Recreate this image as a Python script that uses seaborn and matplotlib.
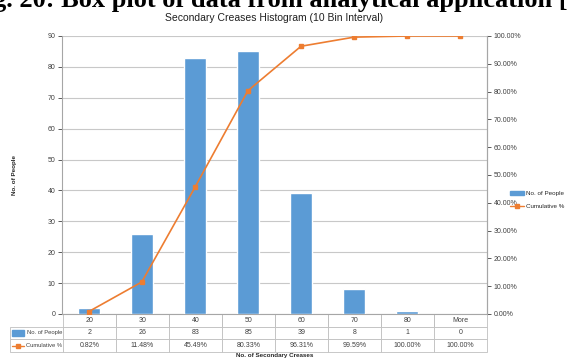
import matplotlib
matplotlib.use("Agg")
from matplotlib import pyplot as plt
from matplotlib.lines import Line2D
from matplotlib.patches import Rectangle
import seaborn as sns
import pandas as pd

bins = ['20', '30', '40', '50', '60', '70', '80', 'More']
people = [2, 26, 83, 85, 39, 8, 1, 0]
cumulative = [0.82, 11.48, 45.49, 80.33, 96.31, 99.59, 100.00, 100.00]

BLUE = '#5B9BD5'
ORANGE = '#ED7D31'
GRID = '#C8C8C8'
TXT = '#404040'


def main() -> None:
    sns.set_theme(style='white')
    plt.rcParams['font.family'] = ['Liberation Sans', 'DejaVu Sans']

    fig = plt.figure(figsize=(5.7, 3.6), dpi=100)
    ax = fig.add_axes([0.109, 0.128, 0.745, 0.772])

    df = pd.DataFrame({'bin': bins, 'people': people, 'cum': cumulative})
    sns.barplot(data=df, x='bin', y='people', order=bins, color=BLUE,
                width=0.42, saturation=1, ax=ax, zorder=3)
    ax.set_ylim(0, 90)
    ax.set_yticks(range(0, 91, 10))
    ax.set_xlim(-0.5, len(bins) - 0.5)
    ax.yaxis.grid(True, color=GRID, lw=0.8, zorder=0)
    ax.set_axisbelow(True)
    ax.set_xticks([])
    ax.set_xlabel('')
    ax.set_ylabel('No. of People', fontsize=4.5, fontweight='bold', labelpad=22)
    ax.tick_params(axis='y', labelsize=5, colors=TXT, length=3, width=0.6,
                   direction='out', left=True, pad=2)
    ax.spines['top'].set_visible(False)
    for s in ['left', 'bottom', 'right']:
        ax.spines[s].set_color('#A6A6A6')
        ax.spines[s].set_linewidth(0.8)

    ax2 = ax.twinx()
    ax2.plot(bins, cumulative, color=ORANGE, lw=1.2, marker='s', ms=3.2, zorder=4)
    ax2.set_ylim(0, 100)
    ax2.set_yticks(range(0, 101, 10))
    ax2.set_yticklabels([f'{v:.2f}%' for v in range(0, 101, 10)])
    ax2.tick_params(axis='y', labelsize=5, colors=TXT, length=3, width=0.6,
                    direction='out', right=True, pad=2)
    for s in ['top', 'left', 'bottom']:
        ax2.spines[s].set_visible(False)
    ax2.spines['right'].set_color('#A6A6A6')
    ax2.spines['right'].set_linewidth(0.8)
    ax2.grid(False)

    # data table under the chart
    rows = [[''] + bins,
            ['No. of People'] + [str(v) for v in people],
            ['Cumulative %'] + [f'{v:.2f}%' for v in cumulative]]
    h = 38 / 278
    tab = ax.table(cellText=rows, cellLoc='center',
                   bbox=[-52 / 425, -h, 1 + 52 / 425, h])
    tab.auto_set_font_size(False)
    tab.set_fontsize(5)
    for (r, c), cell in tab.get_celld().items():
        cell.set_edgecolor('#BFBFBF')
        cell.set_linewidth(0.6)
        cell.get_text().set_color(TXT)
        if r == 0 and c == 0:
            cell.visible_edges = ''
        elif r == 0:
            cell.visible_edges = 'BLR'
        if c == 0 and r > 0:
            cell.get_text().set_ha('right')
            cell.get_text().set_fontsize(4.2)
            cell.PAD = 0.02
    # legend keys inside the row labels
    x0 = (12 - 62) / 425
    kw = 12 / 425
    ax.add_patch(Rectangle((x0, -h * 0.5 - 0.012), kw, 0.024, color=BLUE,
                           transform=ax.transAxes, clip_on=False))
    ax.add_line(Line2D([x0, x0 + kw], [-h * 5 / 6] * 2, color=ORANGE, lw=1,
                       transform=ax.transAxes, clip_on=False))
    ax.add_line(Line2D([x0 + kw / 2], [-h * 5 / 6], color=ORANGE, marker='s',
                       ms=2.5, transform=ax.transAxes, clip_on=False))

    fig.text(0.482, 0.006, 'No. of Secondary Creases', fontsize=4.5,
             fontweight='bold', ha='center', va='bottom')
    fig.text(0.48, 0.935, 'Secondary Creases Histogram (10 Bin Interval)',
             fontsize=7.5, ha='center', va='bottom', color='#202020')
    # caption of the surrounding document, cropped at the top edge as in the source
    fig.text(-0.012, 1 - 7 / 360, 'g. 20: Box plot of data from analytical application [',
             fontsize=19, fontweight='bold', family='Liberation Serif',
             ha='left', va='baseline', color='black')

    handles = [Rectangle((0, 0), 1, 1, color=BLUE),
               Line2D([], [], color=ORANGE, lw=1, marker='s', ms=2.5)]
    fig.legend(handles, ['No. of People', 'Cumulative %'], loc='center left',
               bbox_to_anchor=(0.895, 0.445), frameon=False, fontsize=4.5,
               handlelength=2.2, handletextpad=0.3, labelspacing=1.2,
               borderpad=0, borderaxespad=0)

    fig.savefig('out.png', dpi=100)


if __name__ == '__main__':
    main()
